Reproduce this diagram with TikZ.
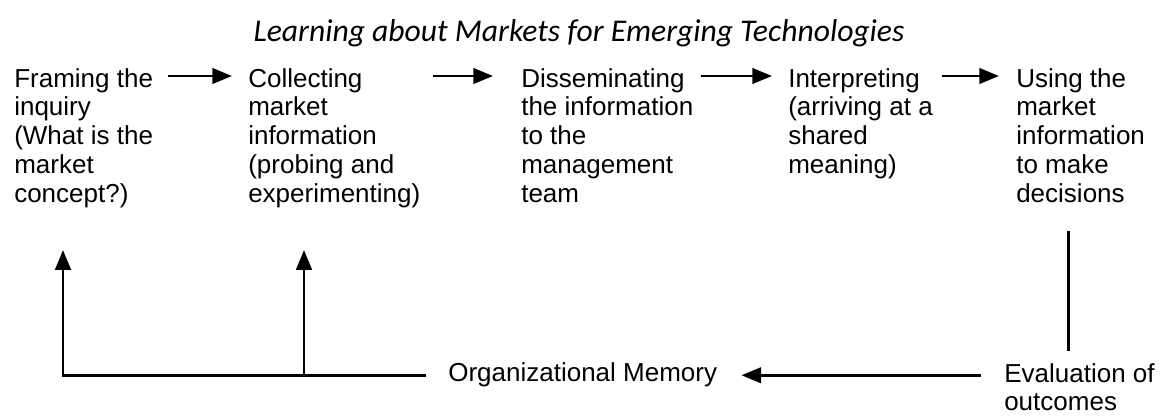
\documentclass[tikz,border=0pt]{standalone}
\usepackage{fontspec}
\setmainfont{Liberation Sans}
\newfontfamily\titlefont{Carlito}
\usetikzlibrary{arrows.meta}

\begin{document}
\begin{tikzpicture}[
  heading/.style={font=\titlefont\itshape\fontsize{22.5}{26}\selectfont, anchor=base, inner sep=0pt},
  stage/.style={align=left, anchor=north west, inner sep=0pt, font=\fontsize{18.5}{20.5}\selectfont},
  flow/.style={draw=black, line width=2pt, -{Triangle[length=14pt, width=11pt]}},
  link/.style={draw=black, line width=1.8pt}
]
\useasboundingbox (0,0) rectangle (29.025,-10.4);

\node[heading] (title) at (14.475,-1.05) {Learning about Markets for Emerging Technologies};

\node[stage] (framing) at (0.35,-1.7) {Framing the\\inquiry\\(What is the\\market\\concept?)};
\node[stage] (collect) at (6.2,-1.7) {Collecting\\market\\information\\(probing and\\experimenting)};
\node[stage] (dissem) at (13.025,-1.7) {Disseminating\\the information\\to the\\management\\team};
\node[stage] (interp) at (19.7,-1.7) {Interpreting\\(arriving at a\\shared\\meaning)};
\node[stage] (using) at (25.4,-1.7) {Using the\\market\\information\\to make\\decisions};

\node[stage, anchor=base west] (memory) at (11.2,-9.55) {Organizational Memory};
\node[stage] (evaluation) at (25.1,-9.075) {Evaluation of\\outcomes};

\draw[flow] ([shift={(0.375,-0.2)}]framing.north east) -- ([shift={(-0.4,-0.2)}]collect.north west);
\draw[flow] ([shift={(0.3,-0.2)}]collect.north east) -- ([shift={(-0.7,-0.2)}]dissem.north west);
\draw[flow] ([shift={(0.175,-0.2)}]dissem.north east) -- ([shift={(-0.4,-0.2)}]interp.north west);
\draw[flow] ([shift={(0.225,-0.2)}]interp.north east) -- ([shift={(-0.425,-0.2)}]using.north west);

\draw[link] ([xshift=-0.3cm,yshift=-0.7cm]using.south) -- ([xshift=-0.3cm,yshift=0.3cm]using.south |- evaluation.north);
\draw[flow] ([xshift=-0.575cm]evaluation.west |- memory.east) -- ([xshift=0.6cm]memory.east);
\draw[flow] ([xshift=-0.55cm]memory.west) -| ([xshift=1.225cm,yshift=-1.05cm]framing.south west);
\draw[flow] ([xshift=1.4cm]collect.south west |- memory.west) -- ([xshift=1.4cm,yshift=-1.05cm]collect.south west);
\end{tikzpicture}
\end{document}
